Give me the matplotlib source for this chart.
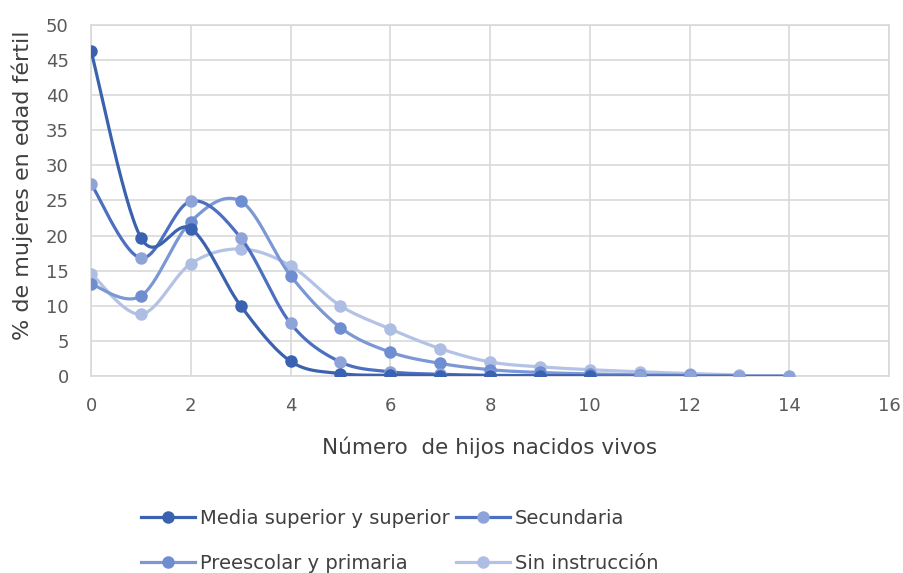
import numpy as np
import matplotlib
matplotlib.use("Agg")
import matplotlib.pyplot as plt
from matplotlib.lines import Line2D

plt.rcParams['font.family'] = ['DejaVu Sans']

# values (% de mujeres por numero de hijos)
media_x = [0, 1, 2, 3, 4, 5, 6, 7, 8, 9, 10]
media_y = [46.3, 19.7, 21.0, 10.0, 2.1, 0.35, 0.1, 0.05, 0.03, 0.02, 0.01]

secundaria_x = [0, 1, 2, 3, 4, 5, 6, 7, 8, 9, 10, 11, 12, 13, 14]
secundaria_y = [27.4, 16.8, 24.9, 19.7, 7.5, 2.0, 0.6, 0.25, 0.1, 0.05, 0.03, 0.02, 0.01, 0.01, 0.0]

preescolar_x = [0, 1, 2, 3, 4, 5, 6, 7, 8, 9, 10, 11, 12]
preescolar_y = [13.1, 11.4, 22.0, 24.9, 14.3, 6.9, 3.4, 1.8, 0.9, 0.5, 0.3, 0.15, 0.1]

sin_instr_x = [0, 1, 2, 3, 4, 5, 6, 7, 8, 9, 10, 11, 12, 13]
sin_instr_y = [14.6, 8.8, 16.0, 18.1, 15.7, 10.0, 6.7, 3.9, 2.0, 1.3, 0.9, 0.6, 0.35, 0.15]

labels = ['Media superior y superior', 'Secundaria', 'Preescolar y primaria', 'Sin instrucción']
line_colors = ['#3B62AE', '#4C6FC0', '#7B97D4', '#B3C2E5']
marker_colors = ['#3A62B0', '#8EA4D9', '#6F8ED2', '#ADBDE3']

x_ticks = list(range(0, 17, 2))
y_ticks = list(range(0, 51, 5))


def smooth(x, y, n=30):
    # Excel-like smoothed line: cubic Bezier with control points at 1/6 of neighbour span
    x = np.asarray(x, float)
    y = np.asarray(y, float)
    px = np.concatenate([[x[0]], x, [x[-1]]])
    py = np.concatenate([[y[0]], y, [y[-1]]])
    t = np.linspace(0, 1, n)
    xs, ys = [], []
    for i in range(len(x) - 1):
        p0 = np.array([x[i], y[i]])
        p3 = np.array([x[i + 1], y[i + 1]])
        p1 = p0 + (np.array([px[i + 2], py[i + 2]]) - np.array([px[i], py[i]])) / 6
        p2 = p3 - (np.array([px[i + 3], py[i + 3]]) - np.array([px[i + 1], py[i + 1]])) / 6
        b = ((1 - t) ** 3)[:, None] * p0 + (3 * (1 - t) ** 2 * t)[:, None] * p1 \
            + (3 * (1 - t) * t ** 2)[:, None] * p2 + (t ** 3)[:, None] * p3
        xs.append(b[:, 0])
        ys.append(b[:, 1])
    return np.concatenate(xs), np.concatenate(ys)


fig = plt.figure(figsize=(9.04, 5.73), dpi=100)
ax = fig.add_axes([0.1007, 0.3438, 0.8827, 0.6126])

series = [(media_x, media_y), (secundaria_x, secundaria_y),
          (preescolar_x, preescolar_y), (sin_instr_x, sin_instr_y)]

# draw lightest first so darkest sits on top
for i in [3, 2, 1, 0]:
    sx, sy = series[i]
    cx, cy = smooth(sx, sy)
    ax.plot(cx, cy, color=line_colors[i], lw=2.3, zorder=3 + (3 - i), solid_capstyle='round')
    ax.plot(sx, sy, ls='none', marker='o', ms=9, color=marker_colors[i],
            markeredgewidth=0, zorder=3 + (3 - i))

ax.set_xlim(0, 16)
ax.set_ylim(0, 50)
ax.set_xticks(x_ticks)
ax.set_yticks(y_ticks)
ax.tick_params(length=0, labelsize=13, colors='#595959')
ax.tick_params(axis='x', pad=15)
ax.tick_params(axis='y', pad=16)
ax.grid(True, color='#D9D9D9', lw=1.2)
ax.set_axisbelow(True)
for s in ax.spines.values():
    s.set_color('#D9D9D9')
    s.set_linewidth(1.2)

ax.set_xlabel('Número  de hijos nacidos vivos', fontsize=15.5, color='#404040')
ax.set_ylabel('% de mujeres en edad fértil', fontsize=16, color='#404040')
ax.xaxis.set_label_coords(0.5, -0.202)
ax.xaxis.label.set_verticalalignment('center')
ax.yaxis.set_label_coords(-0.0865, 0.544)
ax.yaxis.label.set_verticalalignment('center')

handles = [Line2D([], [], color=line_colors[i], lw=2.3, marker='o', ms=9,
                  markerfacecolor=marker_colors[i], markeredgewidth=0) for i in range(4)]
# legend is filled column by column, so reorder to read row by row
order = [0, 2, 1, 3]
fig.legend([handles[i] for i in order], [labels[i] for i in order], ncol=2,
           loc='upper left', bbox_to_anchor=(0.156, 0.112), borderaxespad=0, borderpad=0,
           frameon=False, fontsize=14, handlelength=2.8, handletextpad=0.25,
           columnspacing=0.3, labelspacing=1.36, labelcolor='#404040')

fig.savefig('out.png', dpi=100)
